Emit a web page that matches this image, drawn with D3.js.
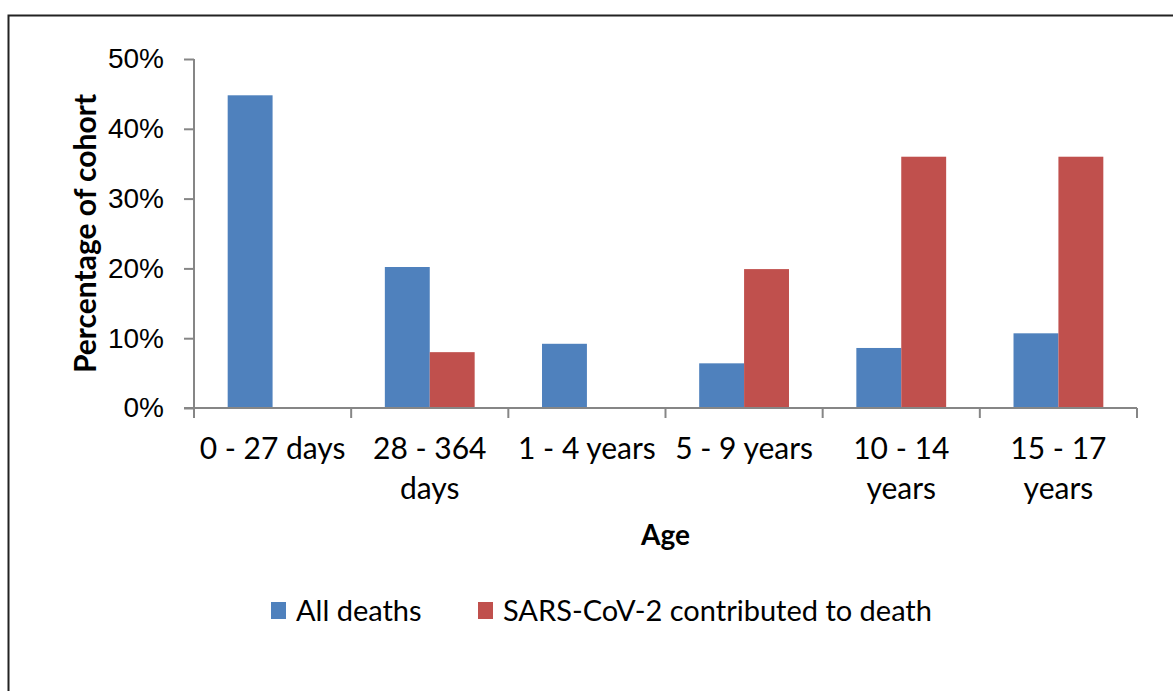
<!DOCTYPE html>
<html>
<head>
<meta charset="utf-8">
<script src="https://cdn.jsdelivr.net/npm/d3@7"></script>
<style>
  body { margin: 0; background: #fff; }
  svg { display: block; font-family: Lato, "Open Sans", sans-serif; }
</style>
</head>
<body>
<svg id="chart" width="1173" height="691"></svg>
<script>
// age groups (lines of each tick label)
var categories = [
  ["0 - 27 days"],
  ["28 - 364", "days"],
  ["1 - 4 years"],
  ["5 - 9 years"],
  ["10 - 14", "years"],
  ["15 - 17", "years"]
];
var seriesNames = ["All deaths", "SARS-CoV-2 contributed to death"];
var allDeaths = [44.8, 20.2, 9.2, 6.4, 8.6, 10.7];
var sarsDeaths = [0, 8.0, 0, 19.9, 36.0, 36.0];
var yTicks = [0, 10, 20, 30, 40, 50];

var colors = ["#4F81BD", "#C0504D"],
  axisColor = "#868686";

var svg = d3.select("svg"),
  margin = { top: 59, left: 194, right: 36, bottom: 283 },
  width = 1173,
  height = 691;

// outer frame
svg.append("rect")
  .attr("x", 8.5).attr("y", 15.5)
  .attr("width", width + 20).attr("height", height + 20)
  .attr("fill", "none")
  .attr("stroke", "#222")
  .attr("stroke-width", 2);

var keys = categories.map(function(c) { return c.join(" "); });
var x = d3.scaleBand()
  .domain(keys)
  .range([margin.left, width - margin.right])
  .paddingInner(0).paddingOuter(0);
var x1 = d3.scaleBand()
  .domain([0, 1])
  .range([0, x.bandwidth()])
  .paddingInner(0).paddingOuter(0.75);
var y = d3.scaleLinear()
  .domain([0, 50])
  .range([height - margin.bottom, margin.top]);

var rows = keys.map(function(k, i) {
  return { key: k, values: [allDeaths[i], sarsDeaths[i]] };
});

// bars
var groups = svg.append("g").selectAll("g")
  .data(rows)
  .enter().append("g")
  .attr("transform", function(d) { return "translate(" + x(d.key) + ",0)"; });
groups.selectAll("rect")
  .data(function(d) { return d.values; })
  .enter().append("rect")
  .attr("x", function(d, i) { return x1(i); })
  .attr("width", x1.bandwidth())
  .attr("y", function(d) { return y(d); })
  .attr("height", function(d) { return y(0) - y(d); })
  .attr("fill", function(d, i) { return colors[i]; });

// y axis
var yAxis = svg.append("g")
  .attr("transform", "translate(" + margin.left + ",0)")
  .call(d3.axisLeft(y)
    .tickValues(yTicks)
    .tickSize(10)
    .tickPadding(20)
    .tickFormat(function(d) { return d + "%"; }));
yAxis.selectAll("path,line").attr("stroke", axisColor).attr("stroke-width", 2);
yAxis.select(".domain").attr("d", "M0," + y(50) + "V" + y(0));
yAxis.selectAll("text")
  .attr("fill", "#000")
  .style("font-size", "28px");

// x axis (ticks between categories)
var xAxis = svg.append("g");
var x0 = x.range()[0], xEnd = x.range()[1];
xAxis.append("line")
  .attr("x1", x0 - 10).attr("x2", xEnd)
  .attr("y1", y(0)).attr("y2", y(0))
  .attr("stroke", axisColor).attr("stroke-width", 2);
var bounds = keys.map(function(k) { return x(k); }).concat([xEnd]);
xAxis.selectAll(".tick")
  .data(bounds)
  .enter().append("line")
  .attr("x1", function(d) { return d; })
  .attr("x2", function(d) { return d; })
  .attr("y1", y(0)).attr("y2", y(0) + 10)
  .attr("stroke", axisColor).attr("stroke-width", 2);

var labels = xAxis.selectAll(".cat")
  .data(categories)
  .enter().append("text")
  .attr("class", "cat")
  .attr("text-anchor", "middle")
  .style("font-size", "30px")
  .attr("transform", function(d, i) {
    return "translate(" + (x(keys[i]) + x.bandwidth() / 2) + "," + (y(0) + 51) + ")";
  });
labels.selectAll("tspan")
  .data(function(d) { return d; })
  .enter().append("tspan")
  .attr("x", 0)
  .attr("y", function(d, i) { return i * 40; })
  .text(function(d) { return d; });

// axis titles
svg.append("text")
  .attr("x", (x0 + xEnd) / 2)
  .attr("y", 545)
  .attr("text-anchor", "middle")
  .style("font-size", "28px")
  .style("font-weight", "bold")
  .text("Age");

svg.append("text")
  .attr("transform", "translate(96," + (y(0) + y(50)) / 2 + ") rotate(-90)")
  .attr("text-anchor", "middle")
  .style("font-size", "30px")
  .style("font-weight", "bold")
  .text("Percentage of cohort");

// legend
var legend = svg.append("g").attr("transform", "translate(271,611)");
var lx = [0, 207];
var items = legend.selectAll("g")
  .data(seriesNames)
  .enter().append("g")
  .attr("transform", function(d, i) { return "translate(" + lx[i] + ",0)"; });
items.append("rect")
  .attr("x", 0).attr("y", -9)
  .attr("width", 15).attr("height", 17)
  .attr("fill", function(d, i) { return colors[i]; });
items.append("text")
  .attr("x", 25)
  .attr("dy", "0.35em")
  .style("font-size", "29px")
  .text(function(d) { return d; });
</script>
</body>
</html>
